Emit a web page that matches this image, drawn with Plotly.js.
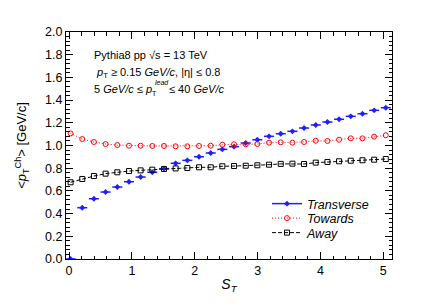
<!DOCTYPE html>
<html>
<head>
<meta charset="utf-8">
<script src="https://cdn.plot.ly/plotly-3.0.1.min.js"></script>
<style>html,body{margin:0;padding:0;background:#fff;}#chart{width:436px;height:305px;}</style>
</head>
<body>
<div id="chart"></div>
<script>
// S_T bin centres
var stValues = [0.025, 0.211, 0.396, 0.582, 0.768, 0.954, 1.139, 1.325, 1.511, 1.696,
  1.882, 2.068, 2.254, 2.439, 2.625, 2.811, 2.996, 3.182, 3.368, 3.554,
  3.739, 3.925, 4.111, 4.296, 4.482, 4.668, 4.854, 5.039];
var transverse = [0.0, 0.452, 0.531, 0.590, 0.634, 0.681, 0.722, 0.764, 0.796, 0.843,
  0.869, 0.901, 0.934, 0.966, 0.990, 1.022, 1.051, 1.081, 1.104, 1.125,
  1.154, 1.181, 1.207, 1.231, 1.257, 1.280, 1.310, 1.333];
var towards = [1.107, 1.057, 1.031, 1.013, 1.004, 0.998, 0.998, 0.996, 0.996, 0.993,
  0.993, 0.996, 0.998, 1.007, 1.011, 1.011, 1.013, 1.025, 1.028, 1.025,
  1.031, 1.042, 1.040, 1.051, 1.063, 1.063, 1.078, 1.090];
var away = [0.676, 0.705, 0.731, 0.752, 0.764, 0.775, 0.781, 0.787, 0.793, 0.798,
  0.802, 0.808, 0.808, 0.817, 0.819, 0.822, 0.826, 0.831, 0.838, 0.840,
  0.837, 0.849, 0.855, 0.861, 0.866, 0.870, 0.875, 0.881];
var binHalfWidth = 0.08;
var seriesNames = ['Transverse', 'Towards', 'Away'];
var xTickVals = [0, 1, 2, 3, 4, 5];
var yTickVals = [0, 0.2, 0.4, 0.6, 0.8, 1.0, 1.2, 1.4, 1.6, 1.8, 2.0];

var FONT = 'Liberation Sans, Arial, Helvetica, sans-serif';
var BLUE = '#1e1eff';

var traces = [
  {x: stValues, y: transverse, mode: 'markers', name: seriesNames[0], showlegend: false,
   marker: {symbol: 'diamond', size: 4.5, color: BLUE},
   error_x: {type: 'constant', value: binHalfWidth, width: 0, color: BLUE, thickness: 1.5}},
  {x: [null], y: [null], mode: 'lines+markers', name: seriesNames[0], legend: 'legend',
   line: {color: BLUE, width: 1.5}, marker: {symbol: 'diamond', size: 4.5, color: BLUE}},
  {x: stValues, y: towards, mode: 'lines+markers', name: seriesNames[1], legend: 'legend2',
   line: {color: '#ff0000', width: 1, dash: '1px,2px'},
   marker: {symbol: 'circle-open', size: 5, color: '#ff0000', line: {width: 1}}},
  {x: stValues, y: away, mode: 'lines+markers', name: seriesNames[2], legend: 'legend3',
   line: {color: '#000000', width: 1, dash: '4px,2px'},
   marker: {symbol: 'square-open', size: 5, color: '#000000', line: {width: 1}}}
];

function legendAt(ypx) {
  return {x: (267 - 66) / 326, y: (259 - ypx) / 227, xanchor: 'left', yanchor: 'middle',
    bgcolor: 'rgba(0,0,0,0)', borderwidth: 0,
    font: {family: FONT, size: 12.5, style: 'italic', color: '#000'}, itemwidth: 30};
}
function px(xp) { return (xp - 66) / 326; }
function py(yp) { return (259 - yp) / 227; }
function note(x, y, text, size, anchor) {
  return {xref: 'paper', yref: 'paper', x: px(x), y: py(y), xanchor: anchor || 'left', yanchor: 'middle',
    showarrow: false, text: text, font: {family: FONT, size: size}};
}

var layout = {
  width: 436, height: 305,
  margin: {l: 66, r: 44, t: 32, b: 46},
  paper_bgcolor: '#fff', plot_bgcolor: '#fff',
  font: {family: FONT, color: '#000', size: 12},
  showlegend: true,
  legend: legendAt(204),
  legend2: legendAt(218.5),
  legend3: legendAt(233),
  xaxis: {range: [-0.048, 5.138], tickvals: xTickVals, ticktext: xTickVals.map(String),
    ticks: 'inside', ticklen: 7, tickcolor: '#000', showline: true, linecolor: '#000', linewidth: 1,
    mirror: 'allticks', showgrid: false, zeroline: false,
    tickfont: {family: FONT, size: 12.5},
    minor: {dtick: 0.2, tick0: 0, ticks: 'inside', ticklen: 3.5, tickcolor: '#000', showgrid: false},
    title: {text: '<i>S<sub>T</sub></i>', font: {family: FONT, size: 14}, standoff: 2}},
  yaxis: {range: [0, 2.0], tickvals: yTickVals, ticktext: yTickVals.map(function(v){return v.toFixed(1);}),
    ticks: 'inside', ticklen: 7, tickcolor: '#000', showline: true, linecolor: '#000', linewidth: 1,
    mirror: 'allticks', showgrid: false, zeroline: false,
    tickfont: {family: FONT, size: 12.5},
    minor: {dtick: 0.04, tick0: 0, ticks: 'inside', ticklen: 3.5, tickcolor: '#000', showgrid: false},
    title: {text: '&lt;<i>p</i><sub>T</sub><sup>Ch</sup>&gt; [GeV/c]', font: {family: FONT, size: 13}, standoff: 15}},
  annotations: [
    note(92, 55, 'Pythia8 pp √s = 13 TeV', 11),
    note(94, 73, '<i>p</i><sub>T</sub> ≥ 0.15 <i>GeV/c</i>, |η| ≤ 0.8', 11),
    note(92, 89, '5 <i>GeV/c</i> ≤ <i>p</i>', 11),
    note(149.5, 93.5, 'T', 7),
    note(152.5, 82.5, '<i>lead</i>', 7),
    note(167, 89, '≤ 40 <i>GeV/c</i>', 11)
  ]
};

Plotly.newPlot('chart', traces, layout, {staticPlot: true, displayModeBar: false});
</script>
</body>
</html>
